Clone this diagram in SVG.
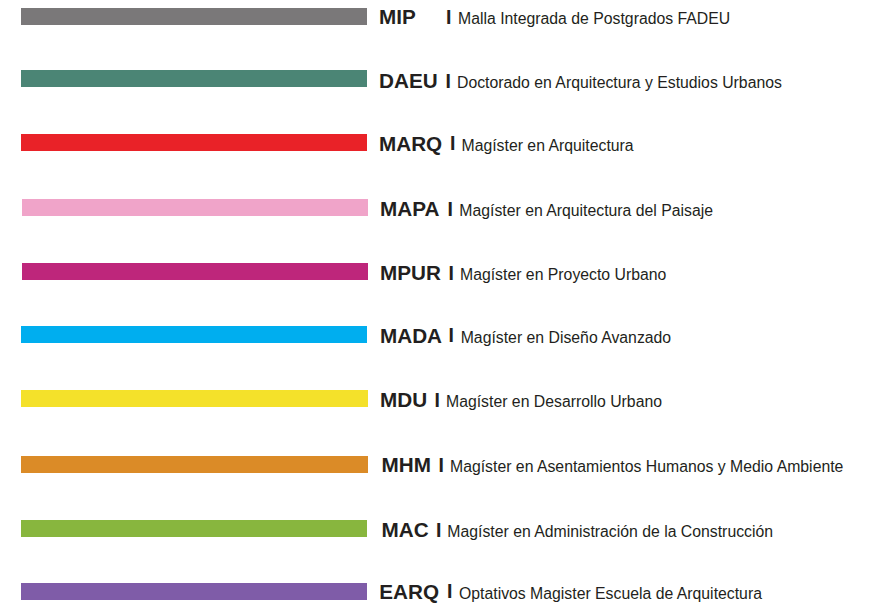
<svg xmlns="http://www.w3.org/2000/svg" width="871" height="605" viewBox="0 0 871 605">
<style>
.bar{stroke:none}
.code{font-family:"Liberation Sans",Arial,Helvetica,sans-serif;font-weight:bold;font-size:20.7px;fill:#231f20}
.sep{font-family:"Liberation Sans",Arial,Helvetica,sans-serif;font-weight:bold;font-size:19.5px;fill:#231f20}
.desc{font-family:"Liberation Sans",Arial,Helvetica,sans-serif;font-size:15.8px;fill:#231f20}
</style>
<rect width="871" height="605" fill="#ffffff"/>
<g id="mip">
<rect class="bar" x="21" y="8" width="346" height="17" fill="#7a7879"/>
<text class="code" x="379" y="24">MIP</text>
<text class="sep" x="446" y="23.5">I</text>
<text class="desc" x="458" y="24.3">Malla Integrada de Postgrados FADEU</text>
</g>
<g id="daeu">
<rect class="bar" x="21" y="70" width="346" height="17" fill="#4b8575"/>
<text class="code" x="379" y="88">DAEU</text>
<text class="sep" x="445.5" y="87.5">I</text>
<text class="desc" x="457" y="88">Doctorado en Arquitectura y Estudios Urbanos</text>
</g>
<g id="marq">
<rect class="bar" x="21" y="134" width="346" height="17" fill="#e92228"/>
<text class="code" x="379" y="150.5">MARQ</text>
<text class="sep" x="450" y="150">I</text>
<text class="desc" x="461.5" y="151">Magíster en Arquitectura</text>
</g>
<g id="mapa">
<rect class="bar" x="22" y="199" width="346" height="17" fill="#f0a4c9"/>
<text class="code" x="380" y="216">MAPA</text>
<text class="sep" x="447.5" y="215.5">I</text>
<text class="desc" x="459.3" y="216">Magíster en Arquitectura del Paisaje</text>
</g>
<g id="mpur">
<rect class="bar" x="22" y="263" width="346" height="17" fill="#be267b"/>
<text class="code" x="380" y="280">MPUR</text>
<text class="sep" x="448.5" y="279.5">I</text>
<text class="desc" x="460" y="280">Magíster en Proyecto Urbano</text>
</g>
<g id="mada">
<rect class="bar" x="21" y="326" width="346" height="17" fill="#00aeef"/>
<text class="code" x="380" y="342.5">MADA</text>
<text class="sep" x="448.5" y="342">I</text>
<text class="desc" x="460.7" y="342.5">Magíster en Diseño Avanzado</text>
</g>
<g id="mdu">
<rect class="bar" x="21" y="390" width="347" height="17" fill="#f4e12a"/>
<text class="code" x="380" y="407">MDU</text>
<text class="sep" x="434.5" y="406.5">I</text>
<text class="desc" x="446" y="407">Magíster en Desarrollo Urbano</text>
</g>
<g id="mhm">
<rect class="bar" x="21" y="456" width="347" height="17" fill="#db8b27"/>
<text class="code" x="381.5" y="472">MHM</text>
<text class="sep" x="438.5" y="471.5">I</text>
<text class="desc" x="450" y="472">Magíster en Asentamientos Humanos y Medio Ambiente</text>
</g>
<g id="mac">
<rect class="bar" x="21" y="520" width="346" height="17" fill="#88b63e"/>
<text class="code" x="381.5" y="537">MAC</text>
<text class="sep" x="436" y="536.5">I</text>
<text class="desc" x="447.3" y="537">Magíster en Administración de la Construcción</text>
</g>
<g id="earq">
<rect class="bar" x="21" y="583" width="346" height="17" fill="#7f5ca8"/>
<text class="code" x="379.3" y="598.5">EARQ</text>
<text class="sep" x="447" y="598">I</text>
<text class="desc" x="459" y="598.5">Optativos Magister Escuela de Arquitectura</text>
</g>
<g id="connectors"/>
</svg>
